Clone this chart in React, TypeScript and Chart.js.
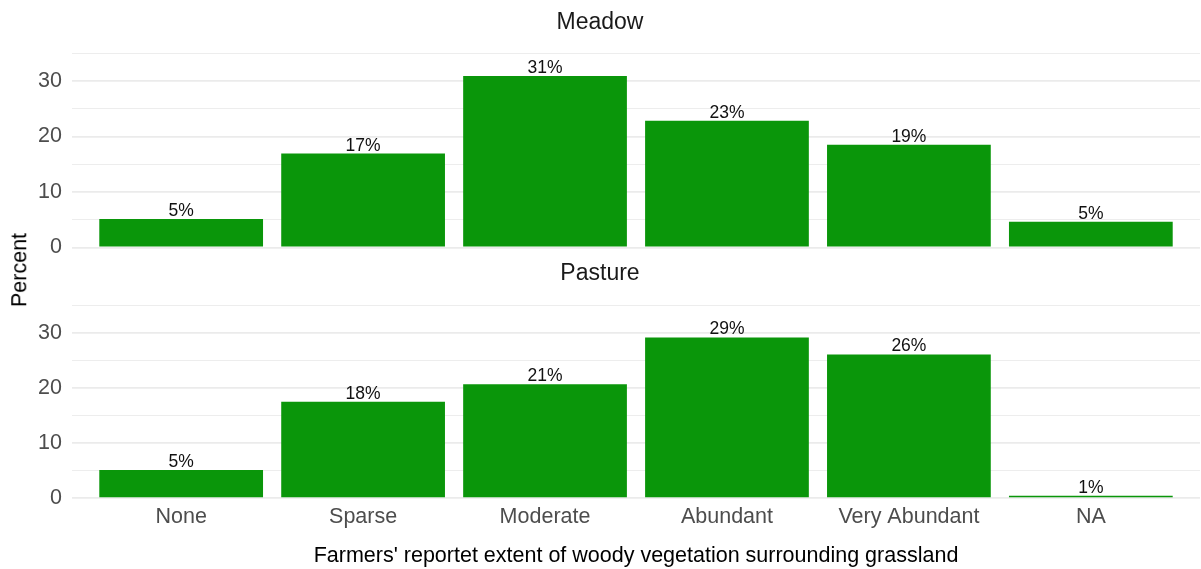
import React, { useEffect, useRef } from 'react';
import { Chart, registerables } from 'chart.js';

Chart.register(...registerables);

const categories = ['None', 'Sparse', 'Moderate', 'Abundant', 'Very Abundant', 'NA'];
const meadowValues = [5.1, 16.9, 30.9, 22.8, 18.5, 4.6];
const pastureValues = [5.1, 17.5, 20.7, 29.2, 26.1, 0.4];
const meadowLabels = ['5%', '17%', '31%', '23%', '19%', '5%'];
const pastureLabels = ['5%', '18%', '21%', '29%', '26%', '1%'];
const yTickLabels = [0, 10, 20, 30];
const facetTitles = ['Meadow', 'Pasture'];
const xTitle = "Farmers' reportet extent of woody vegetation surrounding grassland";
const yTitle = 'Percent';

const FONT = "'Liberation Sans', Arial, sans-serif";
const BAR_COLOR = 'rgb(10,150,10)';

function barLabelPlugin(labels: string[]) {
  return {
    id: 'barLabels',
    afterDatasetsDraw(chart: any) {
      const ctx = chart.ctx;
      const meta = chart.getDatasetMeta(0);
      ctx.save();
      ctx.font = `17.5px ${FONT}`;
      ctx.fillStyle = '#111111';
      ctx.textAlign = 'center';
      ctx.textBaseline = 'alphabetic';
      meta.data.forEach((bar: any, i: number) => {
        ctx.fillText(labels[i], bar.x, bar.y - 3);
      });
      ctx.restore();
    },
  };
}

function makeChart(
  canvas: HTMLCanvasElement,
  values: number[],
  labels: string[],
  title: string,
  showX: boolean,
  titlePadding: { top: number; bottom: number }
) {
  return new Chart(canvas, {
    type: 'bar',
    data: {
      datasets: [
        {
          data: values.map((v, i) => ({ x: i + 1, y: v })),
          backgroundColor: BAR_COLOR,
          borderWidth: 0,
          barPercentage: 0.9,
          categoryPercentage: 1,
        },
      ],
    },
    options: {
      animation: false,
      responsive: false,
      maintainAspectRatio: false,
      layout: { padding: { left: 0, right: 1, top: 0, bottom: 0 } },
      plugins: {
        legend: { display: false },
        tooltip: { enabled: false },
        title: {
          display: true,
          text: title,
          color: '#1a1a1a',
          font: { family: FONT, size: 23, weight: 'normal' },
          padding: titlePadding,
        },
      },
      scales: {
        x: {
          type: 'linear',
          display: showX,
          offset: false,
          min: 0.4,
          max: 6.6,
          grid: { display: false, offset: false },
          border: { display: false },
          ticks: {
            stepSize: 1,
            includeBounds: false,
            autoSkip: false,
            maxRotation: 0,
            padding: -8,
            color: '#4d4d4d',
            font: { family: FONT, size: 21.5, lineHeight: 1 },
            callback: (v: any) => categories[Number(v) - 1] ?? '',
          },
          title: {
            display: showX,
            text: xTitle,
            color: '#000000',
            font: { family: FONT, size: 21.5 },
            padding: { top: 2, bottom: 0 },
          },
          afterFit: (s: any) => {
            s.height = showX ? 62.5 : 0;
          },
        },
        y: {
          type: 'linear',
          min: -1.55,
          max: 36,
          border: { display: false },
          grid: {
            color: '#ebebeb',
            drawTicks: false,
            lineWidth: (c: any) => (c.tick && c.tick.value % 10 === 0 ? 1.7 : 0.9),
          },
          ticks: {
            stepSize: 5,
            includeBounds: false,
            autoSkip: false,
            padding: 10,
            color: '#4d4d4d',
            font: { family: FONT, size: 21.5 },
            callback: (v: any) => (yTickLabels.includes(Number(v)) ? String(v) : ''),
          },
          afterFit: (s: any) => {
            s.width = 72;
            s.paddingTop = 0;
            s.paddingBottom = 0;
          },
        },
      },
    },
    plugins: [barLabelPlugin(labels)],
  } as any);
}

export default function App() {
  const topRef = useRef<HTMLCanvasElement>(null);
  const botRef = useRef<HTMLCanvasElement>(null);

  useEffect(() => {
    const c1 = makeChart(topRef.current!, meadowValues, meadowLabels, facetTitles[0], false, { top: 9, bottom: 11 });
    const c2 = makeChart(botRef.current!, pastureValues, pastureLabels, facetTitles[1], true, { top: 6, bottom: 12.4 });
    return () => {
      c1.destroy();
      c2.destroy();
    };
  }, []);

  return (
    <div style={{ position: 'fixed', left: 0, top: 0, width: 1201, height: 569, background: '#fff' }}>
      <canvas ref={topRef} width={1201} height={256} style={{ position: 'absolute', left: 0, top: 0, display: 'block' }} />
      <canvas ref={botRef} width={1201} height={315} style={{ position: 'absolute', left: 0, top: 254, display: 'block' }} />
      <div style={{ position: 'absolute', left: 20, top: 270, width: 0, height: 0 }}>
        <span
          style={{
            position: 'absolute',
            left: 0,
            top: 0,
            transform: 'translate(-50%, -50%) rotate(-90deg)',
            whiteSpace: 'nowrap',
            fontFamily: FONT,
            fontSize: 21.5,
            color: '#000',
            lineHeight: 1,
          }}
        >
          {yTitle}
        </span>
      </div>
    </div>
  );
}
